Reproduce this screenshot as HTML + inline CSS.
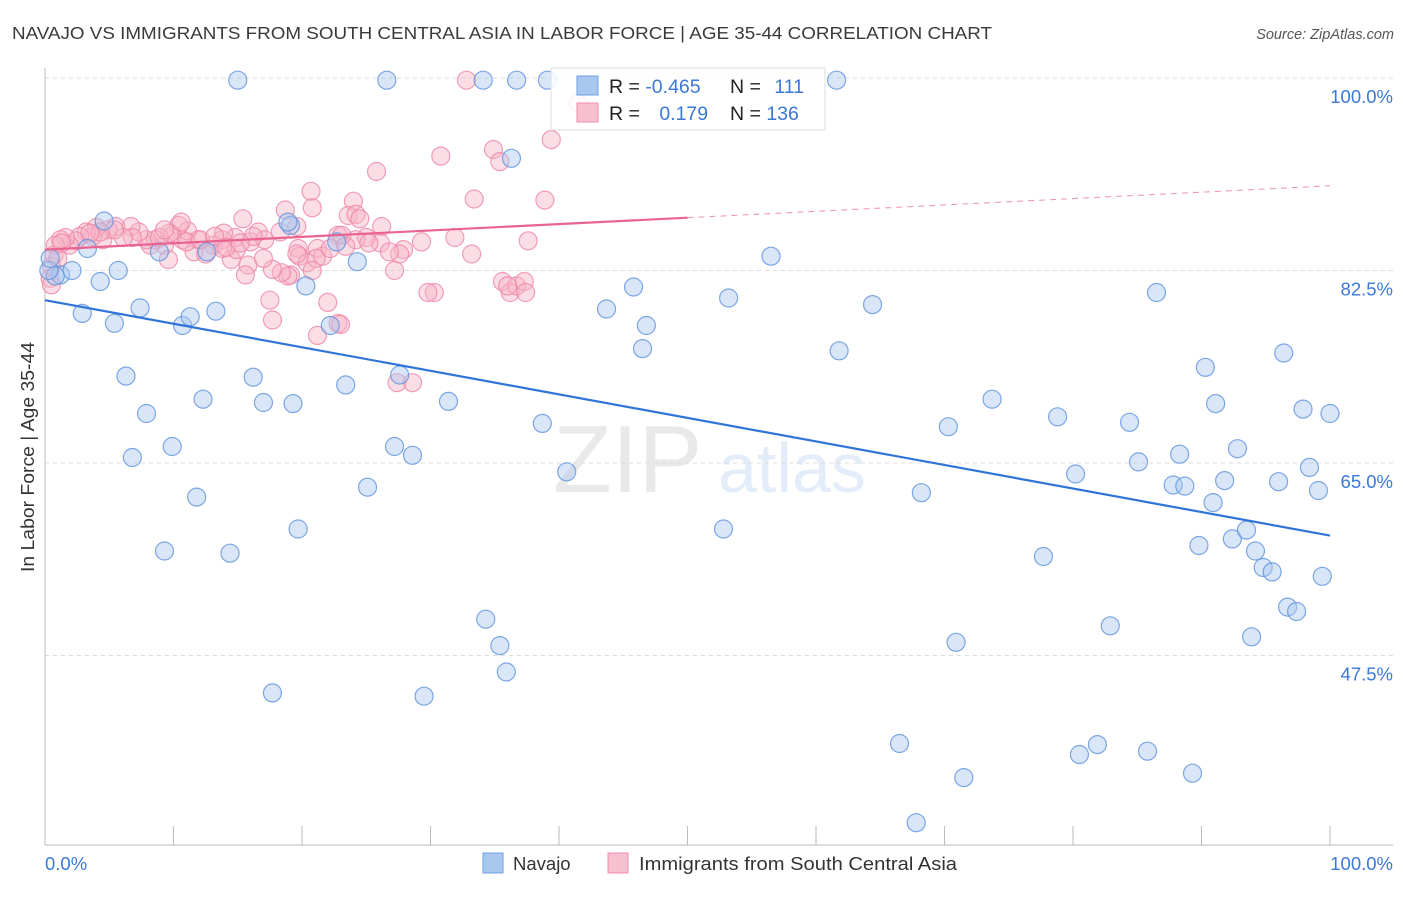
<!DOCTYPE html>
<html><head><meta charset="utf-8"><style>
body{margin:0;background:#fff;font-family:"Liberation Sans",sans-serif;}
svg text{font-family:"Liberation Sans",sans-serif;}
</style></head><body>
<svg id="chart" width="1406" height="892" xmlns="http://www.w3.org/2000/svg">
<text x="12" y="39" font-size="17.5" fill="#3a3a3a" textLength="980" lengthAdjust="spacingAndGlyphs">NAVAJO VS IMMIGRANTS FROM SOUTH CENTRAL ASIA IN LABOR FORCE | AGE 35-44 CORRELATION CHART</text>
<text x="1394" y="39" font-size="14.5" fill="#555" text-anchor="end" font-style="italic">Source: ZipAtlas.com</text>
<g opacity="0.18">
<text x="553" y="492" font-size="96" fill="#888" font-family="Liberation Serif" >ZIP</text>
<text x="718" y="492" font-size="70" fill="#6b9be0">atlas</text>
</g>
<g id="grid"></g>
<g id="axes"></g>
<g id="pinkpts"></g>
<g id="bluepts"></g>
<g id="lines"></g>
<text transform="translate(34,457) rotate(-90)" font-size="18" fill="#333" text-anchor="middle" textLength="230" lengthAdjust="spacingAndGlyphs">In Labor Force | Age 35-44</text>
<g>
<rect x="551" y="68" width="274" height="62" fill="#fff" fill-opacity="0.85" stroke="#ddd"/>
<rect x="577" y="76" width="21" height="19" fill="#a9c8ef" stroke="#6f9fe0"/>
<rect x="577" y="103" width="21" height="19" fill="#f7bfcf" stroke="#ec8fab"/>
<text x="609" y="93" font-size="19.5" fill="#222">R = <tspan fill="#3b78d8">-0.465</tspan></text>
<text x="730" y="93" font-size="19.5" fill="#222">N = <tspan fill="#3b78d8" dx="8">111</tspan></text>
<text x="609" y="120" font-size="19.5" fill="#222">R = <tspan fill="#3b78d8" dx="14">0.179</tspan></text>
<text x="730" y="120" font-size="19.5" fill="#222">N = <tspan fill="#3b78d8">136</tspan></text>
</g>
<g>
<rect x="483" y="853" width="20" height="20" fill="#a9c8ef" stroke="#6f9fe0"/>
<text x="513" y="870" font-size="18.5" fill="#333">Navajo</text>
<rect x="608" y="853" width="20" height="20" fill="#f7bfcf" stroke="#ec8fab"/>
<text x="639" y="870" font-size="18.5" fill="#333" textLength="318" lengthAdjust="spacingAndGlyphs">Immigrants from South Central Asia</text>
</g>
</svg>
<script>
const yTicks=[100,82.5,65,47.5];
const yTickLabels=["100.0%","82.5%","65.0%","47.5%"];
const xLabels=["0.0%","100.0%"];
const navajoTrend=[79.8,58.4];
const immTrend=[84.4,90.2];
const navajoX=[15.0,26.6,34.1,36.7,39.1,61.6,36.3,4.6,3.3,5.7,4.3,1.2,2.1,0.8,8.9,12.6,22.7,24.3,19.1,20.3,2.9,5.4,7.4,10.7,11.3,13.3,22.2,6.3,7.9,12.3,16.2,17.0,19.3,23.4,27.6,31.4,38.7,6.8,9.9,27.2,28.6,11.8,25.1,40.6,9.3,14.4,19.7,34.3,35.4,35.9,17.7,29.5,43.7,45.8,46.8,46.5,53.2,56.5,61.8,64.4,52.8,68.2,70.3,73.7,78.8,80.2,77.7,70.9,66.5,71.5,67.8,80.5,81.9,85.8,82.9,85.1,84.4,86.5,90.3,91.1,88.3,87.8,88.7,90.9,89.8,91.8,92.8,92.4,93.5,94.2,94.8,95.5,96.0,96.4,97.9,98.4,99.1,100.0,96.7,97.4,93.9,99.4,89.3,0.3,0.4,18.9];
const navajoY=[99.8,99.8,99.8,99.8,99.8,99.8,92.7,87.0,84.5,82.5,81.5,82.1,82.5,82.0,84.2,84.2,85.1,83.3,86.6,81.1,78.6,77.7,79.1,77.5,78.3,78.8,77.5,72.9,69.5,70.8,72.8,70.5,70.4,72.1,73.0,70.6,68.6,65.5,66.5,66.5,65.7,61.9,62.8,64.2,57.0,56.8,59.0,50.8,48.4,46.0,44.1,43.8,79.0,81.0,77.5,75.4,80.0,83.8,75.2,79.4,59.0,62.3,68.3,70.8,69.2,64.0,56.5,48.7,39.5,36.4,32.3,38.5,39.4,38.8,50.2,65.1,68.7,80.5,73.7,70.4,65.8,63.0,62.9,61.4,57.5,63.4,66.3,58.1,58.9,57.0,55.5,55.1,63.3,75.0,69.9,64.6,62.5,69.5,51.9,51.5,49.2,54.7,36.8,82.5,83.6,86.9];
const immX=[32.8,41.5,39.4,30.8,34.9,35.4,25.8,33.4,38.9,20.7,20.8,24.0,23.6,24.2,24.5,26.2,15.4,18.7,19.6,37.6,29.3,31.9,27.9,26.1,25.0,22.8,21.2,19.7,19.8,20.4,21.6,21.1,19.1,18.9,18.4,15.8,17.7,14.5,17.0,14.9,16.0,16.6,14.8,13.8,13.9,13.1,11.9,11.6,10.7,11.1,10.4,9.9,9.3,9.6,9.7,8.6,8.2,7.9,7.3,6.7,6.8,6.1,5.5,4.9,4.5,4.0,3.7,3.2,2.7,2.4,1.9,1.6,1.2,0.8,0.7,0.5,0.4,0.5,1.0,22.8,27.4,28.6,30.3,29.8,33.2,35.6,36.2,36.7,37.3,37.4,36.0,27.6,24.2,23.1,17.5,17.7,22.0,23.0,21.2,27.2,15.6,12.5,13.8,17.1,16.2,5.4,4.3,3.5,1.3,8.9,9.3,10.6,11.0,12.1,13.2,14.1,15.2,18.3,19.6,20.8,22.2,23.4,25.2,26.8];
const immY=[99.8,97.7,94.4,92.9,93.5,92.4,91.5,89.0,88.9,89.7,88.2,88.8,87.5,87.6,87.2,86.5,87.2,88.0,86.5,85.2,85.1,85.5,84.4,85.0,85.5,85.7,84.5,84.5,83.8,83.2,83.8,83.6,82.1,82.0,82.3,83.0,82.6,83.5,83.6,84.4,85.1,86.0,85.5,85.3,85.9,84.8,85.3,84.2,85.3,86.1,86.6,85.7,84.8,83.5,85.9,85.3,84.8,85.3,86.0,86.5,85.5,85.5,86.5,86.2,85.3,86.4,85.6,86.0,85.6,85.2,84.8,85.5,85.3,84.8,83.9,82.9,81.8,81.2,83.6,77.7,72.3,72.3,80.5,80.5,84.0,81.5,80.5,81.1,81.5,80.5,81.1,84.0,85.3,85.7,79.8,78.0,79.6,77.6,76.6,82.5,82.1,84.0,84.5,85.3,85.6,86.2,86.0,85.9,85.0,85.5,86.2,86.9,85.1,85.3,85.6,84.6,85.0,86.0,84.0,82.5,84.5,84.7,85.0,84.2];

const NS="http://www.w3.org/2000/svg";
const X0=45,X1=1330,Y100=78,PXPER=11;
function sx(v){return X0+(X1-X0)*v/100;}
function sy(v){return Y100+(100-v)*PXPER;}
function mk(tag,attrs,parent){const e=document.createElementNS(NS,tag);for(const k in attrs)e.setAttribute(k,attrs[k]);parent.appendChild(e);return e;}
const grid=document.getElementById('grid'),axes=document.getElementById('axes');
yTicks.forEach((t,i)=>{
  const l=mk('line',{x1:X0,x2:1393,y1:sy(t),y2:sy(t),stroke:'#dcdcdc','stroke-dasharray':'4,4'},grid);
  
  
  const tx=mk('text',{x:1393,y:sy(t)+25,'font-size':18.5,fill:'#3b78d8','text-anchor':'end'},grid);
  tx.textContent=yTickLabels[i];
  
  
});
mk('line',{x1:X0,x2:X0,y1:68,y2:845,stroke:'#bbb'},axes);
mk('line',{x1:X0,x2:1393,y1:845,y2:845,stroke:'#bbb'},axes);
for(let i=0;i<=10;i++){const t=mk('line',{x1:sx(i*10),x2:sx(i*10),y1:826,y2:845,stroke:'#bbb'},axes);
  
  }
const xl0=mk('text',{x:45,y:870,'font-size':18.5,fill:'#3b78d8'},axes);xl0.textContent=xLabels[0];


const xl1=mk('text',{x:1393,y:870,'font-size':18.5,fill:'#3b78d8','text-anchor':'end'},axes);xl1.textContent=xLabels[1];



function dots(xs,ys,g,fill,stroke,name){xs.forEach((x,i)=>{const c=mk('circle',{cx:sx(x),cy:sy(ys[i]),r:9,fill:fill,'fill-opacity':0.45,stroke:stroke,'stroke-opacity':0.8,'stroke-width':1.2},g);
  
  });}
dots(immX,immY,document.getElementById('pinkpts'),'#f7b3c7','#ec87a6','immigrants-point');
dots(navajoX,navajoY,document.getElementById('bluepts'),'#a9c8ef','#5f92dc','navajo-point');

const lg=document.getElementById('lines');
const bl=mk('line',{x1:sx(0),y1:sy(navajoTrend[0]),x2:sx(100),y2:sy(navajoTrend[1]),stroke:'#2f74d8','stroke-width':2.2},lg);


const immMid=immTrend[0]+(immTrend[1]-immTrend[0])*0.5;
const pl=mk('line',{x1:sx(0),y1:sy(immTrend[0]),x2:sx(50),y2:sy(immMid),stroke:'#e8638f','stroke-width':2.2},lg);


const pd=mk('line',{x1:sx(50),y1:sy(immMid),x2:sx(100),y2:sy(immTrend[1]),stroke:'#e8638f','stroke-width':1,'stroke-dasharray':'6,5','stroke-opacity':0.7},lg);


</script>
</body></html>
